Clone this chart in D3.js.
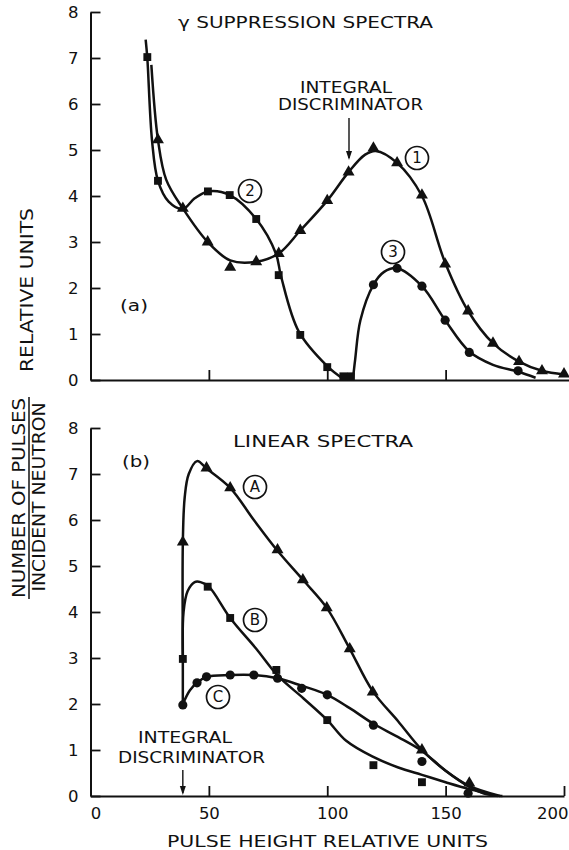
<!DOCTYPE html>
<html><head><meta charset="utf-8">
<script src="https://cdn.jsdelivr.net/npm/d3@7"></script>
<style>
body{margin:0;background:#fff}
svg{display:block}
text{font-family:"DejaVu Sans",sans-serif;fill:#111}
</style>
</head><body>
<svg id="c" width="569" height="850"></svg>
<script>
// ---------- data ----------
const xTicks = [0, 50, 100, 150, 200];
const xInnerTicks = [50, 100, 150];
const yTicks = [0, 1, 2, 3, 4, 5, 6, 7, 8];

// (a) gamma suppression spectra
const curve1Line = [[25.7,6.85],[28.5,5.22],[32,4.35],[39,3.73],[49.5,3.0],[59,2.6],[70,2.57],[79.5,2.75],[88.6,3.25],[100,3.9],[109,4.52],[116,4.9],[120.5,4.98],[129.5,4.72],[140,4.0],[149.8,2.55],[159.5,1.5],[170,0.8],[181,0.4],[190.7,0.2],[200,0.12]];
const curve1Pts  = [[28.5,5.22],[39,3.73],[49.5,3.0],[59,2.45],[70,2.57],[79.5,2.75],[88.6,3.25],[100,3.9],[109,4.52],[119.5,5.04],[129.5,4.72],[140,4.02],[149.8,2.52],[159.5,1.5],[170,0.8],[181,0.4],[190.7,0.2],[200,0.13]];
const curve2Line = [[23.3,7.4],[24,7.0],[26,5.2],[28.5,4.33],[33,3.88],[39,3.72],[44,3.95],[49.6,4.1],[58.8,4.02],[70,3.5],[78.3,2.75],[80.5,2.25],[88,1.05],[100,0.3],[106,0.05]];
const curve2Pts  = [[24,7.02],[28.5,4.33],[49.6,4.1],[58.8,4.02],[70,3.5],[79.5,2.28],[88.6,0.98],[100,0.28],[106.8,0.08],[110,0.08]];
const curve3Line = [[110.8,0],[111.8,0.45],[114,1.3],[119.5,2.07],[124,2.35],[129.5,2.43],[140,2.04],[149.8,1.3],[160,0.62],[170,0.33],[180.6,0.18],[188,0.05]];
const curve3Pts  = [[119.5,2.07],[129.5,2.43],[140,2.04],[149.8,1.3],[160,0.6],[180.6,0.2]];

// (b) linear spectra
const curveALine = [[39,2.0],[39,3.0],[39,5.5],[39.8,6.5],[41.5,7.0],[45,7.28],[49,7.12],[59,6.7],[69,6.0],[79,5.33],[89.7,4.7],[99.8,4.09],[109.5,3.2],[119.2,2.28],[130,1.62],[140,1.0],[150,0.55],[160,0.22],[173,0]];
const curveAPts  = [[39,5.52],[49,7.13],[59,6.7],[79,5.35],[89.7,4.7],[99.8,4.09],[109.5,3.2],[119.2,2.26],[140,1.0],[160,0.28]];
const curveBLine = [[39,3.0],[39.3,4.0],[41,4.45],[44,4.65],[46.5,4.65],[50,4.55],[59,3.87],[70,3.2],[79,2.62],[90,2.12],[100,1.65],[108,1.2],[119,0.86],[130,0.62],[140,0.46],[150,0.3],[160,0.15],[172,0]];
const curveBPts  = [[39,2.98],[49.5,4.55],[59,3.87],[78.5,2.74],[100,1.65],[119.5,0.67],[140,0.3]];
const curveCLine = [[39,2.0],[42,2.3],[45,2.46],[49,2.59],[59,2.63],[69,2.63],[79,2.56],[89,2.4],[100,2.2],[109.5,1.91],[119.5,1.57],[130,1.28],[140,0.98],[150,0.55],[160,0.2],[168,0.03],[174,0]];
const curveCPts  = [[39,1.98],[45,2.46],[49,2.59],[59,2.63],[69,2.63],[79,2.56],[89.2,2.34],[100,2.2],[119.5,1.54],[140,0.75],[159.5,0.06]];

// ---------- drawing ----------
const svg = d3.select("#c");
const x  = d3.scaleLinear().domain([0, 200]).range([90.5, 564]);
const yA = d3.scaleLinear().domain([0, 8]).range([380, 12]);
const yB = d3.scaleLinear().domain([0, 8]).range([796, 428]);
const ink = "#111";

function styleAxis(g){
  g.attr("font-family", "DejaVu Sans, sans-serif").attr("font-size", 16.5);
  g.selectAll("path.domain").attr("stroke", ink).attr("stroke-width", 2);
  g.selectAll(".tick line").attr("stroke", ink).attr("stroke-width", 1.8);
  g.selectAll(".tick text").attr("fill", ink);
}

// y axes
[yA, yB].forEach(y => {
  svg.append("g").attr("transform", `translate(${x(0)},0)`)
    .call(d3.axisLeft(y).tickValues(yTicks).tickSize(-10).tickSizeOuter(0).tickPadding(12).tickFormat(d3.format("d")))
    .call(styleAxis);
});

// top x axis (no labels, extends to the edge)
const xTop = x.copy().domain([0, 202]).range([x(0), x(202)]);
svg.append("g").attr("transform", `translate(0,${yA(0)})`)
  .call(d3.axisBottom(xTop).tickValues(xInnerTicks).tickSize(-10).tickSizeOuter(0).tickFormat(""))
  .call(styleAxis);

// bottom x axis
const gxb = svg.append("g").attr("transform", `translate(0,${yB(0)})`)
  .call(d3.axisBottom(x).tickValues(xTicks).tickSize(-10).tickSizeOuter(0).tickPadding(11))
  .call(styleAxis);
gxb.selectAll(".tick").filter(d => d === 0).select("line").remove();
gxb.selectAll(".tick text")
  .attr("dx", d => d === 0 ? 5 : d === 100 ? 5 : 0)
  .attr("text-anchor", d => d === 200 ? "end" : "middle")
  .attr("x", d => d === 200 ? 4 : 0);

// curves
const line = (y) => d3.line().x(d => x(d[0])).y(d => y(d[1])).curve(d3.curveCatmullRom.alpha(0.5));
function drawCurve(data, y){
  svg.append("path").datum(data).attr("d", line(y))
    .attr("fill", "none").attr("stroke", ink).attr("stroke-width", 2.5).attr("stroke-linejoin","round");
}
const sym = {
  tri: d3.symbol().type(d3.symbolTriangle).size(62),
  sq:  d3.symbol().type(d3.symbolSquare).size(62),
  ci:  d3.symbol().type(d3.symbolCircle).size(66)
};
function drawPts(data, y, s){
  svg.append("g").selectAll("path").data(data).join("path")
    .attr("d", sym[s]).attr("transform", d => `translate(${x(d[0])},${y(d[1])})`)
    .attr("fill", ink);
}
drawCurve(curve1Line, yA); drawCurve(curve2Line, yA); drawCurve(curve3Line, yA);
drawPts(curve2Pts, yA, "sq"); drawPts(curve1Pts, yA, "tri"); drawPts(curve3Pts, yA, "ci");
drawCurve(curveALine, yB); drawCurve(curveBLine, yB); drawCurve(curveCLine, yB);
drawPts(curveAPts, yB, "tri"); drawPts(curveBPts, yB, "sq"); drawPts(curveCPts, yB, "ci");

// circled labels
function circled(cx, cy, t){
  svg.append("circle").attr("cx", cx).attr("cy", cy).attr("r", 11.5)
    .attr("fill", "#fff").attr("stroke", ink).attr("stroke-width", 1.7);
  svg.append("text").attr("x", cx).attr("y", cy).attr("dy", "0.36em")
    .attr("text-anchor", "middle").attr("font-size", 15).text(t);
}
circled(417, 158, "1"); circled(250, 191, "2"); circled(393, 252, "3");
circled(255, 487, "A"); circled(255, 620, "B"); circled(218, 697, "C");

// texts
function txt(x0, y0, s, size, len, anchor){
  const t = svg.append("text").attr("x", x0).attr("y", y0).attr("font-size", size)
    .attr("text-anchor", anchor || "start").text(s);
  if (len) t.attr("textLength", len).attr("lengthAdjust", "spacingAndGlyphs");
  return t;
}
txt(178, 28, "γ SUPPRESSION SPECTRA", 16.5, 255);
txt(300, 93, "INTEGRAL", 15, 92);
txt(278, 110, "DISCRIMINATOR", 15, 145);
txt(120, 311, "(a)", 15, 28);
txt(233, 447, "LINEAR SPECTRA", 16.5, 180);
txt(122, 467, "(b)", 15, 28);
txt(138, 743, "INTEGRAL", 15, 94);
txt(118, 763, "DISCRIMINATOR", 15, 147);
txt(167, 847, "PULSE HEIGHT RELATIVE UNITS", 16.5, 321);

// rotated y titles
function vtxt(bx, cy, s, size, len){
  svg.append("text").attr("transform", `translate(${bx},${cy}) rotate(-90)`)
    .attr("text-anchor", "middle").attr("font-size", size)
    .attr("textLength", len).attr("lengthAdjust", "spacingAndGlyphs").text(s);
}
vtxt(33, 290, "RELATIVE UNITS", 17.5, 164);
vtxt(25, 498, "NUMBER OF PULSES", 17.5, 200);
vtxt(45, 497, "INCIDENT NEUTRON", 17.5, 189);
svg.append("line").attr("x1", 29).attr("x2", 29).attr("y1", 397).attr("y2", 599)
  .attr("stroke", ink).attr("stroke-width", 1.5);

// arrows
function arrow(ax, y1, y2){
  svg.append("line").attr("x1", ax).attr("x2", ax).attr("y1", y1).attr("y2", y2 - 2)
    .attr("stroke", ink).attr("stroke-width", 1.4);
  svg.append("path").attr("d", `M${ax-3},${y2-9} L${ax},${y2} L${ax+3},${y2-9} Z`).attr("fill", ink);
}
arrow(349, 118, 160);
arrow(x(39), 770, 795);
</script>
</body></html>
